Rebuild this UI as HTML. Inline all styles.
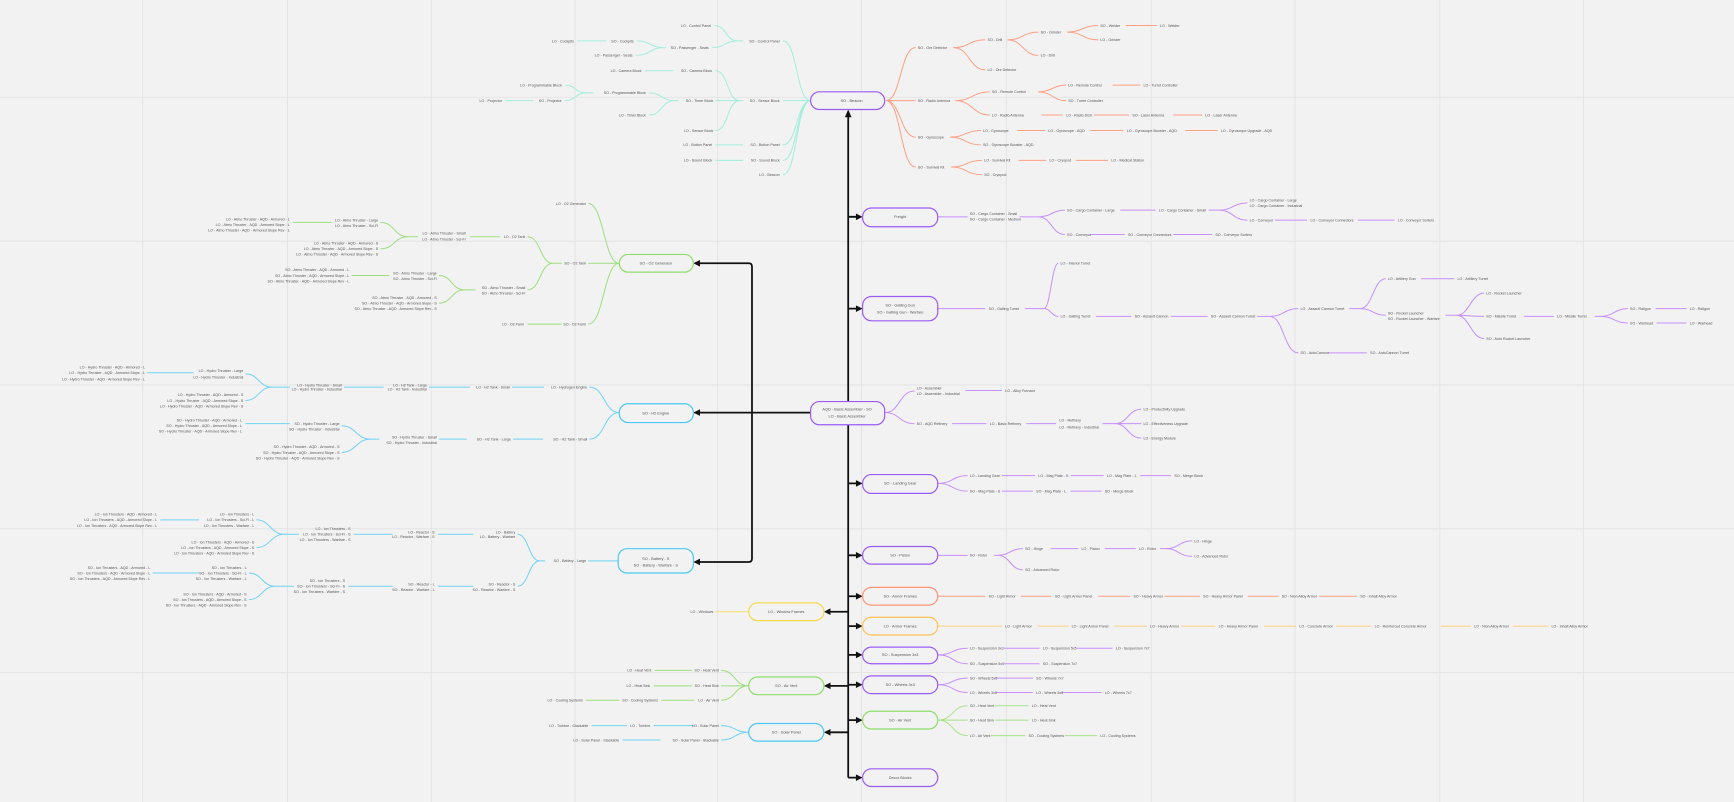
<!DOCTYPE html>
<html><head><meta charset="utf-8"><style>
html,body{margin:0;padding:0;background:#f2f2f2;}
svg{display:block;}
text{font-family:"Liberation Sans",sans-serif;font-size:3.3px;fill:#555;}
.e{text-anchor:end;}
.b{text-anchor:middle;font-size:3.5px;}
.g path,.g line{fill:none;stroke-width:0.9;}
</style></head><body>
<svg width="1734" height="802" viewBox="0 0 1568 725" preserveAspectRatio="none" xmlns="http://www.w3.org/2000/svg">
<rect width="1568" height="725" fill="#f2f2f2"/>
<g stroke="#e3e3e3" stroke-width="0.8">
<path d="M129 0V725M260 0V725M390 0V725M520 0V725M649 0V725M779 0V725M910 0V725M1041 0V725M1171 0V725M1302 0V725M1432 0V725M0 88H1568M0 218H1568M0 348H1568M0 478H1568M0 608H1568"/>
</g>

<!-- black connectors -->
<g fill="none" stroke="#111" stroke-width="1.6">
<path d="M767 101V703"/>
<path d="M733 373H628"/>
<path d="M630 238H677Q680 238 680 241V505Q680 508 677 508H630"/>
<path d="M767 196H778M767 279H778M767 437H778M767 502H778M767 539H778M767 566H778M767 592H778M767 619H778M767 651H778M767 703H778"/>
<path d="M767 553H748M767 620H748M767 662H748"/>
</g>
<g fill="#111">
<path d="M767 99L764 106H770Z"/>
<path d="M627 238L633 235V241Z"/><path d="M627 373L633 370V376Z"/><path d="M627 508L633 505V511Z"/>
<path d="M780 196L774 193V199Z"/><path d="M780 279L774 276V282Z"/><path d="M780 437L774 434V440Z"/><path d="M780 502L774 499V505Z"/><path d="M780 539L774 536V542Z"/><path d="M780 566L774 563V569Z"/><path d="M780 592L774 589V595Z"/><path d="M780 619L774 616V622Z"/><path d="M780 651L774 648V654Z"/><path d="M780 703L774 700V706Z"/>
<path d="M745 553L751 550V556Z"/><path d="M745 620L751 617V623Z"/><path d="M745 662L751 659V665Z"/>
</g>

<!-- TEAL beacon tree -->
<g class="g" stroke="#a2eedc">
<path d="M708 37C721 37 720 91 733 91M708 91H733M708 131C721 131 720 91 733 91M708 145C721 145 720 91 733 91M708 158C721 158 720 91 733 91"/>
<path d="M646 23C657 23 656 37 667 37M644 43C656 43 655 37 667 37M667 37H672"/>
<path d="M576 37C588 37 588 43 600 43M575 50C588 50 588 43 600 43M600 43H602"/>
<path d="M522 37H548"/>
<path d="M647 64C659 64 657 91 669 91M647 91H672M647 118C659 118 657 91 669 91"/>
<path d="M583 64H609"/>
<path d="M587 84C599 84 598 91 610 91M587 104C599 104 598 91 610 91M610 91H613"/>
<path d="M511 77C521 77 520 84 530 84M511 91C521 91 520 84 530 84M530 84H537"/>
<path d="M457 91H482M647 131H672M647 145H672"/>
</g>
<text x="705" y="38.2" class="e">SO - Control Panel</text>
<text x="643" y="24.2" class="e">LO - Control Panel</text>
<text x="641" y="44.2" class="e">SO - Passenger - Seats</text>
<text x="573" y="38.2" class="e">SO - Cockpits</text>
<text x="572" y="51.2" class="e">LO - Passenger - Seats</text>
<text x="519" y="38.2" class="e">LO - Cockpits</text>
<text x="705" y="92.2" class="e">SO - Sensor Block</text>
<text x="644" y="65.2" class="e">SO - Camera Block</text>
<text x="580" y="65.2" class="e">LO - Camera Block</text>
<text x="645" y="92.2" class="e">SO - Timer Block</text>
<text x="584" y="85.2" class="e">SO - Programmable Block</text>
<text x="584" y="105.2" class="e">LO - Timer Block</text>
<text x="508" y="78.2" class="e">LO - Programmable Block</text>
<text x="508" y="92.2" class="e">SO - Projector</text>
<text x="454" y="92.2" class="e">LO - Projector</text>
<text x="645" y="119.2" class="e">LO - Sensor Block</text>
<text x="705" y="132.2" class="e">SO - Button Panel</text>
<text x="644" y="132.2" class="e">LO - Button Panel</text>
<text x="705" y="146.2" class="e">SO - Sound Block</text>
<text x="644" y="146.2" class="e">LO - Sound Block</text>
<text x="705" y="159.2" class="e">LO - Beacon</text>

<!-- ORANGE beacon tree -->
<g class="g" stroke="#ff9f82">
<path d="M801 91C815 91 814 43 828 43M801 91H828M801 91C815 91 814 124 828 124M801 91C815 91 814 151 828 151"/>
<path d="M862 43C877 43 876 36 891 36M862 43C877 43 876 63 891 63"/>
<path d="M911 36C925 36 925 29 939 29M911 36C925 36 925 50 939 50"/>
<path d="M965 29C979 29 979 23 993 23M965 29C979 29 979 36 993 36"/>
<path d="M1018 23H1046"/>
<path d="M864 91C879 91 880 83 895 83M864 91C879 91 880 104 895 104"/>
<path d="M939 83C951 83 952 77 964 77M939 83C951 83 952 91 964 91"/>
<path d="M1006 77H1031M942 104H961M989 104H1021M1061 104H1087"/>
<path d="M859 124C873 124 873 118 887 118M859 124C873 124 873 131 887 131"/>
<path d="M920 118H945M986 118H1016M1072 118H1101"/>
<path d="M860 151C874 151 874 145 888 145M860 151C874 151 874 158 888 158"/>
<path d="M921 145H946M973 145H1002"/>
</g>
<text x="830" y="44.2">SO - Ore Detector</text>
<text x="830" y="92.2">SO - Radio Antenna</text>
<text x="830" y="125.2">SO - Gyroscope</text>
<text x="830" y="152.2">SO - Survival Kit</text>
<text x="893" y="37.2">SO - Drill</text>
<text x="893" y="64.2">LO - Ore Detector</text>
<text x="941" y="30.2">SO - Grinder</text>
<text x="941" y="51.2">LO - Drill</text>
<text x="995" y="24.2">SO - Welder</text>
<text x="995" y="37.2">LO - Grinder</text>
<text x="1049" y="24.2">LO - Welder</text>
<text x="897" y="84.2">SO - Remote Control</text>
<text x="897" y="105.2">LO - Radio Antenna</text>
<text x="966" y="78.2">LO - Remote Control</text>
<text x="966" y="92.2">SO - Turret Controller</text>
<text x="1034" y="78.2">LO - Turret Controller</text>
<text x="964" y="105.2">LO - Radio Dish</text>
<text x="1024" y="105.2">SO - Laser Antenna</text>
<text x="1090" y="105.2">LO - Laser Antenna</text>
<text x="889" y="119.2">LO - Gyroscope</text>
<text x="889" y="132.2">SO - Gyroscope Booster - AQD</text>
<text x="948" y="119.2">LO - Gyroscope - AQD</text>
<text x="1019" y="119.2">LO - Gyroscope Booster - AQD</text>
<text x="1104" y="119.2">LO - Gyroscope Upgrade - AQD</text>
<text x="890" y="146.2">LO - Survival Kit</text>
<text x="890" y="159.2">SO - Cryopod</text>
<text x="949" y="146.2">LO - Cryopod</text>
<text x="1005" y="146.2">LO - Medical Station</text>

<!-- PURPLE right trees -->
<g class="g" stroke="#c690ff">
<path d="M848 196H875"/>
<path d="M922 196C931 196 930 196 939 196M939 196C951 196 951 190 963 190M939 196C951 196 951 212 963 212"/>
<path d="M1013 190H1045M1093 190H1102M1102 190C1115 190 1115 183.5 1128 183.5M1102 190C1115 190 1115 199 1128 199"/>
<path d="M1153 199H1182M1228 199H1261M986 212H1017M1061 212H1096"/>
<path d="M848 279H891M927 279H944M944 279C950 279 951 238 957 238M944 279C950 279 951 286 957 286"/>
<path d="M991 286H1023M1059 286H1092M1137 286H1148M1148 286C1161 286 1161 279 1174 279M1148 286C1161 286 1161 319 1174 319"/>
<path d="M1201 319H1236M1220 279H1230M1230 279C1241 279 1242 252 1253 252M1230 279C1241 279 1242 285 1253 285"/>
<path d="M1285 252H1315M1307 285H1317M1317 285C1329 285 1330 265 1342 265M1317 285C1329 285 1330 286 1342 286M1317 285C1329 285 1330 306 1342 306"/>
<path d="M1378 286H1405M1442 286H1447M1447 286C1459 286 1460 279 1472 279M1447 286C1459 286 1460 292 1472 292M1497 279H1525M1498 292H1525"/>
<path d="M800 373C814 373 813 353.5 827 353.5M800 373C814 373 813 383 827 383"/>
<path d="M873 353H906M861 383H892M928 383H955M997 383H1008M1008 383C1020 383 1020 370 1032 370M1008 383H1032M1008 383C1020 383 1020 396 1032 396"/>
<path d="M848 437C862 437 861 430 875 430M848 437C862 437 861 444 875 444"/>
<path d="M906 430H936M968 430H998M1031 430H1059M906 444H934M968 444H996"/>
<path d="M848 502H875M899 502H902M902 502C914 502 913 496 925 496M902 502C914 502 913 515 925 515"/>
<path d="M950 496H975M999 496H1027M1049 496H1054M1054 496C1066 496 1066 489 1078 489M1054 496C1066 496 1066 503 1078 503"/>
<path d="M848 592C862 592 861 586 875 586M848 592C862 592 861 600 875 600M908 586H940M974 586H1006M908 600H940"/>
<path d="M848 619C862 619 861 613 875 613M848 619C862 619 861 626 875 626M900 613H934M900 626H934M960 626H996"/>
</g>
<text x="877" y="194.2">SO - Cargo Container - Small</text>
<text x="877" y="199.2">SO - Cargo Container - Medium</text>
<text x="965" y="191.2">SO - Cargo Container - Large</text>
<text x="965" y="213.2">SO - Conveyor</text>
<text x="1048" y="191.2">LO - Cargo Container - Small</text>
<text x="1130" y="182.2">LO - Cargo Container - Large</text>
<text x="1130" y="187.2">LO - Cargo Container - Industrial</text>
<text x="1130" y="200.2">LO - Conveyor</text>
<text x="1185" y="200.2">LO - Conveyor Connectors</text>
<text x="1264" y="200.2">LO - Conveyor Sorters</text>
<text x="1020" y="213.2">SO - Conveyor Connectors</text>
<text x="1099" y="213.2">SO - Conveyor Sorters</text>
<text x="894" y="280.2">SO - Gatling Turret</text>
<text x="959" y="239.2">LO - Interior Turret</text>
<text x="959" y="287.2">LO - Gatling Turret</text>
<text x="1026" y="287.2">SO - Assault Cannon</text>
<text x="1095" y="287.2">SO - Assault Cannon Turret</text>
<text x="1176" y="280.2">LO - Assault Cannon Turret</text>
<text x="1176" y="320.2">SO - AutoCannon</text>
<text x="1239" y="320.2">SO - AutoCannon Turret</text>
<text x="1255" y="253.2">LO - Artillery Gun</text>
<text x="1318" y="253.2">LO - Artillery Turret</text>
<text x="1255" y="284.2">SO - Rocket Launcher</text>
<text x="1255" y="289.2">SO - Rocket Launcher - Warfare</text>
<text x="1344" y="266.2">LO - Rocket Launcher</text>
<text x="1344" y="287.2">SO - Missile Turret</text>
<text x="1344" y="307.2">SO - Auto Rocket Launcher</text>
<text x="1408" y="287.2">LO - Missile Turret</text>
<text x="1474" y="280.2">SO - Railgun</text>
<text x="1474" y="293.2">SO - Warhead</text>
<text x="1528" y="280.2">LO - Railgun</text>
<text x="1528" y="293.2">LO - Warhead</text>
<text x="829" y="352.2">LO - Assembler</text>
<text x="829" y="357.2">LO - Assembler - Industrial</text>
<text x="909" y="354.2">LO - Alloy Furnace</text>
<text x="829" y="384.2">SO - AQD Refinery</text>
<text x="895" y="384.2">LO - Basic Refinery</text>
<text x="958" y="381.2">LO - Refinery</text>
<text x="958" y="387.2">LO - Refinery - Industrial</text>
<text x="1034" y="371.2">LO - Productivity Upgrade</text>
<text x="1034" y="384.2">LO - Effectiveness Upgrade</text>
<text x="1034" y="397.2">LO - Energy Module</text>
<text x="877" y="431.2">LO - Landing Gear</text>
<text x="939" y="431.2">LO - Mag Plate - S</text>
<text x="1001" y="431.2">LO - Mag Plate - L</text>
<text x="1062" y="431.2">SO - Merge Block</text>
<text x="877" y="445.2">SO - Mag Plate - S</text>
<text x="937" y="445.2">SO - Mag Plate - L</text>
<text x="999" y="445.2">SO - Merge Block</text>
<text x="877" y="503.2">SO - Rotor</text>
<text x="927" y="497.2">SO - Hinge</text>
<text x="927" y="516.2">SO - Advanced Rotor</text>
<text x="978" y="497.2">LO - Piston</text>
<text x="1030" y="497.2">LO - Rotor</text>
<text x="1080" y="490.2">LO - Hinge</text>
<text x="1080" y="504.2">LO - Advanced Rotor</text>
<text x="877" y="587.2">LO - Suspension 3x3</text>
<text x="943" y="587.2">LO - Suspension 5x5</text>
<text x="1009" y="587.2">LO - Suspension 7x7</text>
<text x="877" y="601.2">SO - Suspension 5x5</text>
<text x="943" y="601.2">SO - Suspension 7x7</text>
<text x="877" y="614.2">SO - Wheels 5x5</text>
<text x="937" y="614.2">SO - Wheels 7x7</text>
<text x="877" y="627.2">LO - Wheels 3x3</text>
<text x="937" y="627.2">LO - Wheels 5x5</text>
<text x="999" y="627.2">LO - Wheels 7x7</text>

<!-- armor chains -->
<g class="g" stroke="#ff9f82"><path d="M848 539H891M923 539H951M993 539H1022M1053 539H1085M1128 539H1156M1193 539H1227"/></g>
<text x="894" y="540.2">SO - Light Armor</text>
<text x="954" y="540.2">SO - Light Armor Panel</text>
<text x="1025" y="540.2">SO - Heavy Armor</text>
<text x="1088" y="540.2">SO - Heavy Armor Panel</text>
<text x="1159" y="540.2">SO - Nion Alloy Armor</text>
<text x="1230" y="540.2">SO - Inhalt Alloy Armor</text>
<g class="g" stroke="#ffcf7f"><path d="M848 566H906M938 566H966M1008 566H1037M1068 566H1099M1143 566H1172M1208 566H1240M1303 566H1330M1368 566H1400"/></g>
<text x="909" y="567.2">LO - Light Armor</text>
<text x="969" y="567.2">LO - Light Armor Panel</text>
<text x="1040" y="567.2">LO - Heavy Armor</text>
<text x="1102" y="567.2">LO - Heavy Armor Panel</text>
<text x="1175" y="567.2">LO - Concrete Armor</text>
<text x="1243" y="567.2">LO - Reinforced Concrete Armor</text>
<text x="1333" y="567.2">LO - Nion Alloy Armor</text>
<text x="1403" y="567.2">LO - Inhalt Alloy Armor</text>

<!-- green right air vent -->
<g class="g" stroke="#a6e38a">
<path d="M848 651C862 651 861 638 875 638M848 651H875M848 651C862 651 861 665 875 665M900 638H930M900 651H930M896 665H927M963 665H992"/>
</g>
<text x="877" y="639.2">SO - Heat Vent</text>
<text x="933" y="639.2">LO - Heat Vent</text>
<text x="877" y="652.2">SO - Heat Sink</text>
<text x="933" y="652.2">LO - Heat Sink</text>
<text x="877" y="666.2">LO - Air Vent</text>
<text x="930" y="666.2">SO - Cooling Systems</text>
<text x="995" y="666.2">LO - Cooling Systems</text>

<!-- left bottom: window, air vent, solar -->
<g class="g" stroke="#f3e06a"><path d="M647 553H677"/></g>
<text x="645" y="554.2" class="e">LO - Windows</text>
<g class="g" stroke="#9ddf7c">
<path d="M677 620C664 620 665 606 652 606M677 620H652M677 620C664 620 665 633 652 633M592 606H626M591 620H626M598 633H628M530 633H560"/>
</g>
<text x="650" y="607.2" class="e">SO - Heat Vent</text>
<text x="589" y="607.2" class="e">LO - Heat Vent</text>
<text x="650" y="621.2" class="e">SO - Heat Sink</text>
<text x="588" y="621.2" class="e">LO - Heat Sink</text>
<text x="650" y="634.2" class="e">LO - Air Vent</text>
<text x="595" y="634.2" class="e">SO - Cooling Systems</text>
<text x="527" y="634.2" class="e">LO - Cooling Systems</text>
<g class="g" stroke="#6fd3f5">
<path d="M677 662C664 662 665 656 652 656M677 662C664 662 665 669 652 669M591 656H628M535 656H567M563 669H597"/>
</g>
<text x="650" y="657.2" class="e">LO - Solar Panel</text>
<text x="588" y="657.2" class="e">LO - Turbine</text>
<text x="532" y="657.2" class="e">LO - Turbine - Stackable</text>
<text x="650" y="670.2" class="e">SO - Solar Panel - Stackable</text>
<text x="560" y="670.2" class="e">LO - Solar Panel - Stackable</text>

<!-- battery tree -->
<g class="g" stroke="#6fd3f5">
<path d="M532 507H559M493 507H488M488 507C478 507 478 483 468 483M488 507C478 507 478 530 468 530"/>
<path d="M396 483H428M320 483H355M396 530H428M315 530H355"/>
<path d="M270 483H257M257 483C245 483 244 470 232 470M257 483C245 483 244 495 232 495M145 470H180"/>
<path d="M266 530H249M249 530C237 530 237 518 225 518M249 530C237 530 237 542 225 542M138 518H180"/>
</g>
<text x="530" y="508.2" class="e">SO - Battery - Large</text>
<text x="466" y="482.2" class="e">LO - Battery</text>
<text x="466" y="486.2" class="e">LO - Battery - Warfare</text>
<text x="393" y="482.2" class="e">LO - Reactor - S</text>
<text x="393" y="486.2" class="e">LO - Reactor - Warfare - S</text>
<text x="317" y="479.2" class="e">LO - Ion Thrusters - S</text>
<text x="317" y="484.2" class="e">LO - Ion Thrusters - Sci-Fi - S</text>
<text x="317" y="489.2" class="e">LO - Ion Thrusters - Warfare - S</text>
<text x="230" y="466.2" class="e">LO - Ion Thrusters - L</text>
<text x="230" y="471.2" class="e">LO - Ion Thrusters - Sci-Fi - L</text>
<text x="230" y="476.2" class="e">LO - Ion Thrusters - Warfare - L</text>
<text x="142" y="466.2" class="e">LO - Ion Thrusters - AQD - Armored - L</text>
<text x="142" y="471.2" class="e">LO - Ion Thrusters - AQD - Armored Slope - L</text>
<text x="142" y="476.2" class="e">LO - Ion Thrusters - AQD - Armored Slope Rev - L</text>
<text x="230" y="491.2" class="e">LO - Ion Thrusters - AQD - Armored - S</text>
<text x="230" y="496.2" class="e">LO - Ion Thrusters - AQD - Armored Slope - S</text>
<text x="230" y="501.2" class="e">LO - Ion Thrusters - AQD - Armored Slope Rev - S</text>
<text x="466" y="529.2" class="e">SO - Reactor - S</text>
<text x="466" y="534.2" class="e">SO - Reactor - Warfare - S</text>
<text x="393" y="529.2" class="e">SO - Reactor - L</text>
<text x="393" y="534.2" class="e">SO - Reactor - Warfare - L</text>
<text x="312" y="526.2" class="e">SO - Ion Thrusters - S</text>
<text x="312" y="531.2" class="e">SO - Ion Thrusters - Sci-Fi - S</text>
<text x="312" y="536.2" class="e">SO - Ion Thrusters - Warfare - S</text>
<text x="223" y="514.2" class="e">SO - Ion Thrusters - L</text>
<text x="223" y="519.2" class="e">SO - Ion Thrusters - Sci-Fi - L</text>
<text x="223" y="524.2" class="e">SO - Ion Thrusters - Warfare - L</text>
<text x="136" y="514.2" class="e">SO - Ion Thrusters - AQD - Armored - L</text>
<text x="136" y="519.2" class="e">SO - Ion Thrusters - AQD - Armored Slope - L</text>
<text x="136" y="524.2" class="e">SO - Ion Thrusters - AQD - Armored Slope Rev - L</text>
<text x="223" y="538.2" class="e">SO - Ion Thrusters - AQD - Armored - S</text>
<text x="223" y="543.2" class="e">SO - Ion Thrusters - AQD - Armored Slope - S</text>
<text x="223" y="548.2" class="e">SO - Ion Thrusters - AQD - Armored Slope Rev - S</text>

<!-- O2 tree -->
<g class="g" stroke="#9ddf7c">
<path d="M560 238C546 238 546 184 532 184M560 238H532M560 238C546 238 546 293 532 293"/>
<path d="M508 238H500M500 238C488 238 489 214 477 214M500 238C488 238 489 262 477 262"/>
<path d="M425 214H452M477 293H508"/>
<path d="M378 214H369M369 214C356 214 357 201 344 201M369 214C356 214 357 225 344 225M265 201H300"/>
<path d="M430 262H420M420 262C408 262 409 249 397 249M420 262C408 262 409 274 397 274M318 249H352"/>
</g>
<text x="530" y="185.2" class="e">LO - O2 Generator</text>
<text x="530" y="239.2" class="e">SO - O2 Tank</text>
<text x="530" y="294.2" class="e">SO - O2 Farm</text>
<text x="474" y="294.2" class="e">LO - O2 Farm</text>
<text x="475" y="215.2" class="e">LO - O2 Tank</text>
<text x="421" y="212.2" class="e">LO - Atmo Thruster - Small</text>
<text x="421" y="217.2" class="e">LO - Atmo Thruster - Sci-Fi</text>
<text x="342" y="200.2" class="e">LO - Atmo Thruster - Large</text>
<text x="342" y="205.2" class="e">LO - Atmo Thruster - Sci-Fi</text>
<text x="262" y="199.2" class="e">LO - Atmo Thruster - AQD - Armored - L</text>
<text x="262" y="204.2" class="e">LO - Atmo Thruster - AQD - Armored Slope - L</text>
<text x="262" y="209.2" class="e">LO - Atmo Thruster - AQD - Armored Slope Rev - L</text>
<text x="342" y="221.2" class="e">LO - Atmo Thruster - AQD - Armored - S</text>
<text x="342" y="226.2" class="e">LO - Atmo Thruster - AQD - Armored Slope - S</text>
<text x="342" y="231.2" class="e">LO - Atmo Thruster - AQD - Armored Slope Rev - S</text>
<text x="475" y="261.2" class="e">SO - Atmo Thruster - Small</text>
<text x="475" y="266.2" class="e">SO - Atmo Thruster - Sci-Fi</text>
<text x="395" y="248.2" class="e">SO - Atmo Thruster - Large</text>
<text x="395" y="253.2" class="e">SO - Atmo Thruster - Sci-Fi</text>
<text x="316" y="245.2" class="e">SO - Atmo Thruster - AQD - Armored - L</text>
<text x="316" y="250.2" class="e">SO - Atmo Thruster - AQD - Armored Slope - L</text>
<text x="316" y="255.2" class="e">SO - Atmo Thruster - AQD - Armored Slope Rev - L</text>
<text x="395" y="270.2" class="e">SO - Atmo Thruster - AQD - Armored - S</text>
<text x="395" y="275.2" class="e">SO - Atmo Thruster - AQD - Armored Slope - S</text>
<text x="395" y="280.2" class="e">SO - Atmo Thruster - AQD - Armored Slope Rev - S</text>

<!-- H2 tree -->
<g class="g" stroke="#6fd3f5">
<path d="M560 373C546 373 547 350 533 350M560 373C546 373 547 397 533 397"/>
<path d="M463 350H492M388 350H425M311 350H347"/>
<path d="M262 350H246M246 350C234 350 234 338 222 338M246 350C234 350 234 362 222 362M133 337H175"/>
<path d="M464 397H491M397 397H422"/>
<path d="M343 397H335M335 397C322 397 322 385 309 385M335 397C322 397 322 409 309 409M222 383H262"/>
</g>
<text x="531" y="351.2" class="e">LO - Hydrogen Engine</text>
<text x="461" y="351.2" class="e">LO - H2 Tank - Small</text>
<text x="386" y="349.2" class="e">LO - H2 Tank - Large</text>
<text x="386" y="353.2" class="e">LO - H2 Tank - Industrial</text>
<text x="309" y="349.2" class="e">LO - Hydro Thruster - Small</text>
<text x="309" y="353.2" class="e">LO - Hydro Thruster - Industrial</text>
<text x="220" y="336.2" class="e">LO - Hydro Thruster - Large</text>
<text x="220" y="342.2" class="e">LO - Hydro Thruster - Industrial</text>
<text x="131" y="333.2" class="e">LO - Hydro Thruster - AQD - Armored - L</text>
<text x="131" y="338.2" class="e">LO - Hydro Thruster - AQD - Armored Slope - L</text>
<text x="131" y="344.2" class="e">LO - Hydro Thruster - AQD - Armored Slope Rev - L</text>
<text x="220" y="358.2" class="e">LO - Hydro Thruster - AQD - Armored - S</text>
<text x="220" y="363.2" class="e">LO - Hydro Thruster - AQD - Armored Slope - S</text>
<text x="220" y="368.2" class="e">LO - Hydro Thruster - AQD - Armored Slope Rev - S</text>
<text x="531" y="398.2" class="e">SO - H2 Tank - Small</text>
<text x="462" y="398.2" class="e">SO - H2 Tank - Large</text>
<text x="395" y="396.2" class="e">SO - Hydro Thruster - Small</text>
<text x="395" y="401.2" class="e">SO - Hydro Thruster - Industrial</text>
<text x="307" y="384.2" class="e">SO - Hydro Thruster - Large</text>
<text x="307" y="389.2" class="e">SO - Hydro Thruster - Industrial</text>
<text x="219" y="381.2" class="e">SO - Hydro Thruster - AQD - Armored - L</text>
<text x="219" y="386.2" class="e">SO - Hydro Thruster - AQD - Armored Slope - L</text>
<text x="219" y="391.2" class="e">SO - Hydro Thruster - AQD - Armored Slope Rev - L</text>
<text x="307" y="405.2" class="e">SO - Hydro Thruster - AQD - Armored - S</text>
<text x="307" y="410.2" class="e">SO - Hydro Thruster - AQD - Armored Slope - S</text>
<text x="307" y="415.2" class="e">SO - Hydro Thruster - AQD - Armored Slope Rev - S</text>

<!-- boxes -->
<g fill="#f2f2f2" stroke-width="1.1">
<rect x="733" y="83" width="67" height="16" rx="8" stroke="#9b5cf6"/>
<rect x="780" y="188" width="68" height="17" rx="8" stroke="#9b5cf6"/>
<rect x="780" y="268" width="68" height="22" rx="8" stroke="#9b5cf6"/>
<rect x="733" y="363" width="67" height="21" rx="8" stroke="#9b5cf6"/>
<rect x="780" y="429" width="68" height="17" rx="8" stroke="#9b5cf6"/>
<rect x="780" y="494" width="68" height="16" rx="8" stroke="#9b5cf6"/>
<rect x="780" y="531" width="68" height="16" rx="8" stroke="#ff9475"/>
<rect x="780" y="558" width="68" height="16" rx="8" stroke="#ffc254"/>
<rect x="780" y="585" width="68" height="15" rx="8" stroke="#9b5cf6"/>
<rect x="780" y="611" width="68" height="16" rx="8" stroke="#9b5cf6"/>
<rect x="780" y="643" width="68" height="16" rx="8" stroke="#8fdd6d"/>
<rect x="780" y="695" width="68" height="16" rx="8" stroke="#9b5cf6"/>
<rect x="560" y="230" width="67" height="16" rx="8" stroke="#8fdd6d"/>
<rect x="560" y="365" width="67" height="17" rx="8" stroke="#4cc9f4"/>
<rect x="559" y="496" width="68" height="22" rx="8" stroke="#4cc9f4"/>
<rect x="677" y="545" width="68" height="16" rx="8" stroke="#f3dc4c"/>
<rect x="677" y="612" width="68" height="16" rx="8" stroke="#8fdd6d"/>
<rect x="677" y="654" width="68" height="16" rx="8" stroke="#4cc9f4"/>
</g>
<text x="770" y="92.2" class="b">SO - Beacon</text>
<text x="814" y="197.2" class="b">Freight</text>
<text x="814" y="277.2" class="b">SO - Gatling Gun</text>
<text x="814" y="283.2" class="b">SO - Gatling Gun - Warfare</text>
<text x="766" y="371.2" class="b">AQD - Basic Assembler - SO</text>
<text x="766" y="377.2" class="b">LO - Basic Assembler</text>
<text x="814" y="438.2" class="b">SO - Landing Gear</text>
<text x="814" y="503.2" class="b">SO - Piston</text>
<text x="814" y="540.2" class="b">SO - Armor Frames</text>
<text x="814" y="567.2" class="b">LO - Armor Frames</text>
<text x="814" y="593.2" class="b">SO - Suspension 3x3</text>
<text x="814" y="620.2" class="b">SO - Wheels 3x3</text>
<text x="814" y="652.2" class="b">SO - Air Vent</text>
<text x="814" y="704.2" class="b">Decor Blocks</text>
<text x="593" y="239.2" class="b">SO - O2 Generator</text>
<text x="593" y="374.7" class="b">SO - H2 Engine</text>
<text x="593" y="506.2" class="b">SO - Battery - S</text>
<text x="593" y="512.2" class="b">SO - Battery - Warfare - S</text>
<text x="711" y="554.2" class="b">LO - Window Frames</text>
<text x="711" y="621.2" class="b">SO - Air Vent</text>
<text x="711" y="663.2" class="b">SO - Solar Panel</text>
</svg>
</body></html>
